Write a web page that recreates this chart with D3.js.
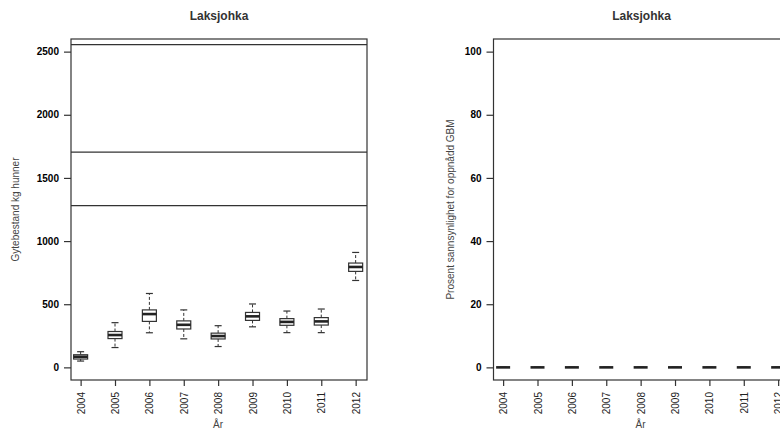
<!DOCTYPE html>
<html>
<head>
<meta charset="utf-8">
<script src="https://cdn.jsdelivr.net/npm/d3@7"></script>
<style>
  html, body { margin: 0; padding: 0; background: #fff; }
  svg { display: block; font-family: "Liberation Sans", Arial, sans-serif; }
</style>
</head>
<body>
<svg id="chart" width="780" height="429"></svg>
<script>
// ---- data ----
const years = ["2004","2005","2006","2007","2008","2009","2010","2011","2012"];
// five-number summaries: [lower whisker, Q1, median, Q3, upper whisker] (kg hunner)
const spawnMin    = [50, 157, 274, 226, 165, 321, 275, 275, 688];
const spawnQ1     = [66, 228, 364, 304, 225, 372, 333, 335, 760];
const spawnMedian = [84, 256, 422, 337, 248, 404, 360, 364, 795];
const spawnQ3     = [100, 284, 455, 368, 271, 435, 386, 394, 826];
const spawnMax    = [124, 354, 585, 455, 330, 502, 446, 462, 910];
// reference lines (kg)
const refLines = [2555, 1705, 1280];
// probability of reaching GBM (%) – all zero
const probMin    = [0,0,0,0,0,0,0,0,0];
const probQ1     = [0,0,0,0,0,0,0,0,0];
const probMedian = [0,0,0,0,0,0,0,0,0];
const probQ3     = [0,0,0,0,0,0,0,0,0];
const probMax    = [0,0,0,0,0,0,0,0,0];
const leftTicks  = [0, 500, 1000, 1500, 2000, 2500];
const rightTicks = [0, 20, 40, 60, 80, 100];
const titleText = "Laksjohka";
const leftYLabel = "Gytebestand kg hunner";
const rightYLabel = "Prosent sannsynlighet for oppnådd GBM";
const xLabel = "År";

const svg = d3.select("#chart");
const ink = "#333";

function panel(opts) {
  const g = svg.append("g");
  const x = d3.scaleLinear().domain([0.72, 9.33]).range([opts.x0, opts.x0 + 296]);
  const y = d3.scaleLinear().domain(opts.ydomain).range([380, 39]);
  const bw = 14;

  // plot box
  g.append("rect")
    .attr("x", x.range()[0]).attr("y", 39)
    .attr("width", x.range()[1] - x.range()[0]).attr("height", 341)
    .attr("fill", "none").attr("stroke", ink).attr("stroke-width", 1.2);

  // y axis
  const ya = g.append("g").attr("transform", `translate(${x.range()[0]},0)`)
    .call(d3.axisLeft(y).tickValues(opts.yticks).tickSize(7).tickPadding(5).tickFormat(d3.format("d")));
  ya.select(".domain").remove();
  ya.selectAll("line").attr("stroke", ink).attr("stroke-width", 1.2);
  ya.selectAll("text").attr("font-size", 10).attr("fill", "#000").attr("font-weight", "bold")
    .attr("font-family", "'Liberation Sans', Arial, sans-serif");

  // x axis
  const xa = g.append("g").attr("transform", `translate(0,380)`)
    .call(d3.axisBottom(x).tickValues(years.map((d, i) => i + 1)).tickSize(6).tickFormat(d => years[d - 1]));
  xa.select(".domain").remove();
  xa.selectAll("line").attr("stroke", ink).attr("stroke-width", 1.2);
  xa.selectAll("text")
    .attr("font-size", 10).attr("fill", "#222")
    .attr("font-family", "'Liberation Sans', Arial, sans-serif")
    .attr("text-anchor", "end")
    .attr("transform", "rotate(-90)")
    .attr("x", -12).attr("y", 0).attr("dy", "0.35em");

  // reference lines
  (opts.refs || []).forEach(v => {
    g.append("line")
      .attr("x1", x.range()[0]).attr("x2", x.range()[1])
      .attr("y1", y(v)).attr("y2", y(v))
      .attr("stroke", ink).attr("stroke-width", 1.3);
  });

  // boxplots
  years.forEach((yr, i) => {
    const cx = x(i + 1);
    const s = opts.stats;
    const lo = s[0][i], q1 = s[1][i], md = s[2][i], q3 = s[3][i], hi = s[4][i];
    const b = g.append("g");
    // whiskers
    b.append("line").attr("x1", cx).attr("x2", cx).attr("y1", y(q3)).attr("y2", y(hi))
      .attr("stroke", ink).attr("stroke-width", 1).attr("stroke-dasharray", "3,2");
    b.append("line").attr("x1", cx).attr("x2", cx).attr("y1", y(q1)).attr("y2", y(lo))
      .attr("stroke", ink).attr("stroke-width", 1).attr("stroke-dasharray", "3,2");
    // staples
    [lo, hi].forEach(v => b.append("line")
      .attr("x1", cx - bw / 4).attr("x2", cx + bw / 4).attr("y1", y(v)).attr("y2", y(v))
      .attr("stroke", ink).attr("stroke-width", 1.2));
    // box
    b.append("rect").attr("x", cx - bw / 2).attr("y", y(q3))
      .attr("width", bw).attr("height", Math.max(0, y(q1) - y(q3)))
      .attr("fill", "#fff").attr("stroke", ink).attr("stroke-width", 1.2);
    // median
    b.append("line").attr("x1", cx - bw / 2).attr("x2", cx + bw / 2).attr("y1", y(md)).attr("y2", y(md))
      .attr("stroke", "#222").attr("stroke-width", 2.6);
  });

  // title
  const mid = (x.range()[0] + x.range()[1]) / 2;
  g.append("text").attr("x", mid).attr("y", 19.5).attr("text-anchor", "middle")
    .attr("font-size", 12).attr("font-weight", "bold").attr("fill", "#333").text(titleText);
  // x label
  g.append("text").attr("x", mid - 1).attr("y", 428).attr("text-anchor", "middle")
    .attr("font-size", 10).attr("fill", "#444").text(xLabel);
  // y label
  g.append("text").attr("transform", `translate(${opts.ylabX},209.5) rotate(-90)`)
    .attr("text-anchor", "middle").attr("dy", "0.35em")
    .attr("font-size", 10).attr("fill", "#444").text(opts.ylabel);
}

panel({
  x0: 71, ydomain: [-100, 2600], yticks: leftTicks, refs: refLines,
  stats: [spawnMin, spawnQ1, spawnMedian, spawnQ3, spawnMax],
  ylabel: leftYLabel, ylabX: 15
});
panel({
  x0: 493.5, ydomain: [-4, 104], yticks: rightTicks, refs: [],
  stats: [probMin, probQ1, probMedian, probQ3, probMax],
  ylabel: rightYLabel, ylabX: 450
});
</script>
</body>
</html>
